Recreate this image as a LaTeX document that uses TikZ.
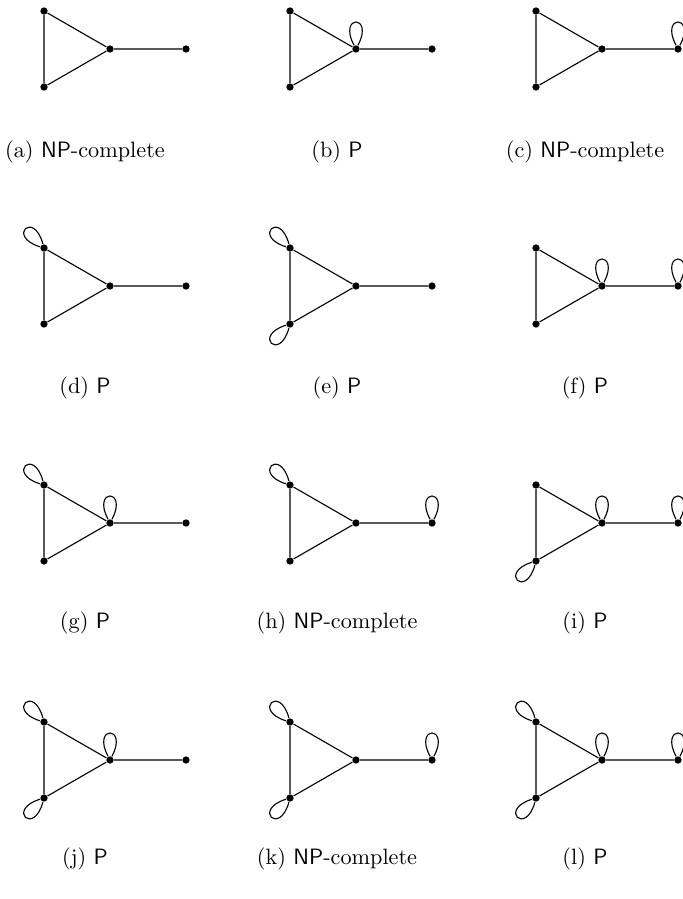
\documentclass[tikz,border=0pt]{standalone}
\usepackage{tikz}
\usetikzlibrary{calc}
\tikzset{
  vtx/.style={circle,fill=black,inner sep=0pt,minimum size=3.3pt},
  gedge/.style={line width=0.5pt},
  loopup/.style={out=62,in=118,min distance=5.6mm,looseness=1},
  loopul/.style={out=105,in=163,min distance=5.6mm,looseness=1},
  loopdl/.style={out=197,in=255,min distance=5.6mm,looseness=1},
  subcap/.style={font=\normalsize,anchor=base},
}
\newcommand{\NPc}{\textsf{NP}-complete}
\newcommand{\Pc}{\textsf{P}}
% one paw graph: #1 name, #2 x of top vertex, #3 y of top vertex
\newcommand{\pawgraph}[3]{%
  \node[vtx] (#1-top) at (#2,#3) {};
  \node[vtx] (#1-bot) at ($(#1-top)+(0,76)$) {};
  \node[vtx] (#1-mid) at ($(#1-top)+(66,38)$) {};
  \node[vtx] (#1-end) at ($(#1-top)+(142,38)$) {};
  \draw[gedge] (#1-top)--(#1-bot)--(#1-mid)--(#1-top) (#1-mid)--(#1-end);}

\begin{document}
\begin{tikzpicture}[x=0.45pt,y=-0.45pt]
  \useasboundingbox (0,0) rectangle (683,899);
  \pawgraph{a}{44}{11}   \pawgraph{b}{290}{11}  \pawgraph{c}{536}{11}
  \pawgraph{d}{44}{248}  \pawgraph{e}{290}{248} \pawgraph{f}{536}{248}
  \pawgraph{g}{44}{485}  \pawgraph{h}{290}{485} \pawgraph{i}{536}{485}
  \pawgraph{j}{44}{722}  \pawgraph{k}{290}{722} \pawgraph{l}{536}{722}
  % loops
  \draw[gedge] (b-mid) to[loopup] (b-mid);
  \draw[gedge] (c-end) to[loopup] (c-end);
  \draw[gedge] (d-top) to[loopul] (d-top);
  \draw[gedge] (e-top) to[loopul] (e-top);
  \draw[gedge] (e-bot) to[loopdl] (e-bot);
  \draw[gedge] (f-mid) to[loopup] (f-mid);
  \draw[gedge] (f-end) to[loopup] (f-end);
  \draw[gedge] (g-top) to[loopul] (g-top);
  \draw[gedge] (g-mid) to[loopup] (g-mid);
  \draw[gedge] (h-top) to[loopul] (h-top);
  \draw[gedge] (h-end) to[loopup] (h-end);
  \draw[gedge] (i-bot) to[loopdl] (i-bot);
  \draw[gedge] (i-mid) to[loopup] (i-mid);
  \draw[gedge] (i-end) to[loopup] (i-end);
  \draw[gedge] (j-top) to[loopul] (j-top);
  \draw[gedge] (j-bot) to[loopdl] (j-bot);
  \draw[gedge] (j-mid) to[loopup] (j-mid);
  \draw[gedge] (k-top) to[loopul] (k-top);
  \draw[gedge] (k-bot) to[loopdl] (k-bot);
  \draw[gedge] (k-end) to[loopup] (k-end);
  \draw[gedge] (l-top) to[loopul] (l-top);
  \draw[gedge] (l-bot) to[loopdl] (l-bot);
  \draw[gedge] (l-mid) to[loopup] (l-mid);
  \draw[gedge] (l-end) to[loopup] (l-end);
  % captions
  \node[subcap] (ca) at (85,157)  {(a) \NPc};
  \node[subcap] (cb) at (337,157) {(b) \Pc};
  \node[subcap] (cc) at (585,157) {(c) \NPc};
  \node[subcap] (cd) at (85,393)  {(d) \Pc};
  \node[subcap] (ce) at (337,393) {(e) \Pc};
  \node[subcap] (cf) at (585,393) {(f) \Pc};
  \node[subcap] (cg) at (85,628)  {(g) \Pc};
  \node[subcap] (ch) at (337,628) {(h) \NPc};
  \node[subcap] (ci) at (585,628) {(i) \Pc};
  \node[subcap] (cj) at (85,864)  {(j) \Pc};
  \node[subcap] (ck) at (337,864) {(k) \NPc};
  \node[subcap] (cl) at (585,864) {(l) \Pc};
\end{tikzpicture}
\end{document}
